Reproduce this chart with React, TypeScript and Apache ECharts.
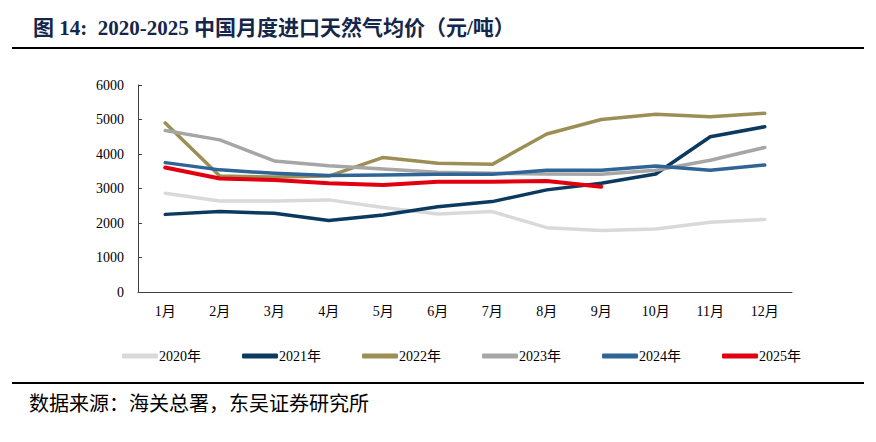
import React, { useEffect, useRef } from "react";
import * as echarts from "echarts";

const months = ["1月", "2月", "3月", "4月", "5月", "6月", "7月", "8月", "9月", "10月", "11月", "12月"];
const y2020 = [2860, 2640, 2640, 2670, 2450, 2260, 2330, 1865, 1780, 1825, 2020, 2105];
const y2021 = [2250, 2330, 2280, 2070, 2230, 2470, 2620, 2960, 3150, 3420, 4500, 4790];
const y2022 = [4900, 3360, 3330, 3360, 3900, 3730, 3700, 4580, 5000, 5150, 5080, 5180];
const y2023 = [4680, 4410, 3800, 3660, 3565, 3470, 3440, 3420, 3410, 3530, 3820, 4190];
const y2024 = [3750, 3540, 3440, 3375, 3390, 3410, 3410, 3530, 3530, 3650, 3530, 3680];
const y2025 = [3610, 3290, 3245, 3150, 3100, 3195, 3195, 3215, 3050];
const yTicks = [0, 1000, 2000, 3000, 4000, 5000, 6000];

const seriesNames = ["2020年", "2021年", "2022年", "2023年", "2024年", "2025年"];
const seriesData = [y2020, y2021, y2022, y2023, y2024, y2025];
const colors = ["#d9d9d9", "#0c3a5f", "#9c8f55", "#a6a6a6", "#2f6496", "#e00010"];
const widths = [3.5, 3.5, 3.5, 3.5, 3.5, 4];
const legendLeft = [117, 237, 357, 477, 597, 717];

const serif = "'Times New Roman', 'Liberation Serif', 'Noto Sans CJK SC', serif";

export default function App() {
  const ref = useRef<HTMLDivElement>(null);
  useEffect(() => {
    const chart = echarts.init(ref.current!, undefined, { renderer: "svg" });
    chart.setOption({
      animation: false,
      backgroundColor: "#ffffff",
      grid: { left: 138, right: 84, top: 85, bottom: 150, containLabel: false },
      xAxis: {
        type: "category",
        data: months,
        boundaryGap: true,
        axisLine: { lineStyle: { color: "#404040", width: 1 } },
        axisTick: { inside: true, length: 4, lineStyle: { color: "#404040" } },
        axisLabel: { color: "#000", fontFamily: serif, fontSize: 14, margin: 12 },
      },
      yAxis: {
        type: "value",
        min: yTicks[0],
        max: yTicks[yTicks.length - 1],
        interval: 1000,
        splitLine: { show: false },
        axisLine: { show: true, lineStyle: { color: "#404040", width: 1 } },
        axisTick: { show: true, inside: true, length: 4, lineStyle: { color: "#404040" } },
        axisLabel: {
          color: "#000",
          fontFamily: serif,
          fontSize: 14,
          margin: 14,
          formatter: (v: number) => String(v),
        },
      },
      legend: seriesNames.map((n, i) => ({
        data: [n],
        left: legendLeft[i],
        top: 344,
        icon: "roundRect",
        itemWidth: 36,
        itemHeight: 5,
        textStyle: { color: "#000", fontFamily: serif, fontSize: 14, padding: [0, 0, 0, -4] },
      })),
      series: seriesNames.map((n, i) => ({
        name: n,
        type: "line",
        data: seriesData[i],
        symbol: "none",
        smooth: false,
        z: i === 5 ? 10 : 2 + i,
        lineStyle: { color: colors[i], width: widths[i], cap: "round", join: "round" },
        itemStyle: { color: colors[i] },
      })),
      graphic: [
        {
          type: "text",
          left: 33,
          top: 17,
          style: {
            text: "图 14:  2020-2025 中国月度进口天然气均价（元/吨）",
            fontFamily: serif,
            fontSize: 21,
            fontWeight: "bold",
            fill: "#14264a",
          },
        },
        {
          type: "line",
          shape: { x1: 12, y1: 48, x2: 864, y2: 48 },
          style: { stroke: "#000", lineWidth: 2 },
        },
        {
          type: "line",
          shape: { x1: 12, y1: 383, x2: 864, y2: 383 },
          style: { stroke: "#000", lineWidth: 2 },
        },
        {
          type: "text",
          left: 29,
          top: 394,
          style: {
            text: "数据来源：海关总署，东吴证券研究所",
            fontFamily: serif,
            fontSize: 20,
            fill: "#000",
          },
        },
      ],
    });
    return () => chart.dispose();
  }, []);
  return (
    <div
      ref={ref}
      style={{ position: "fixed", left: 0, top: 0, width: 876, height: 442, background: "#fff" }}
    />
  );
}
